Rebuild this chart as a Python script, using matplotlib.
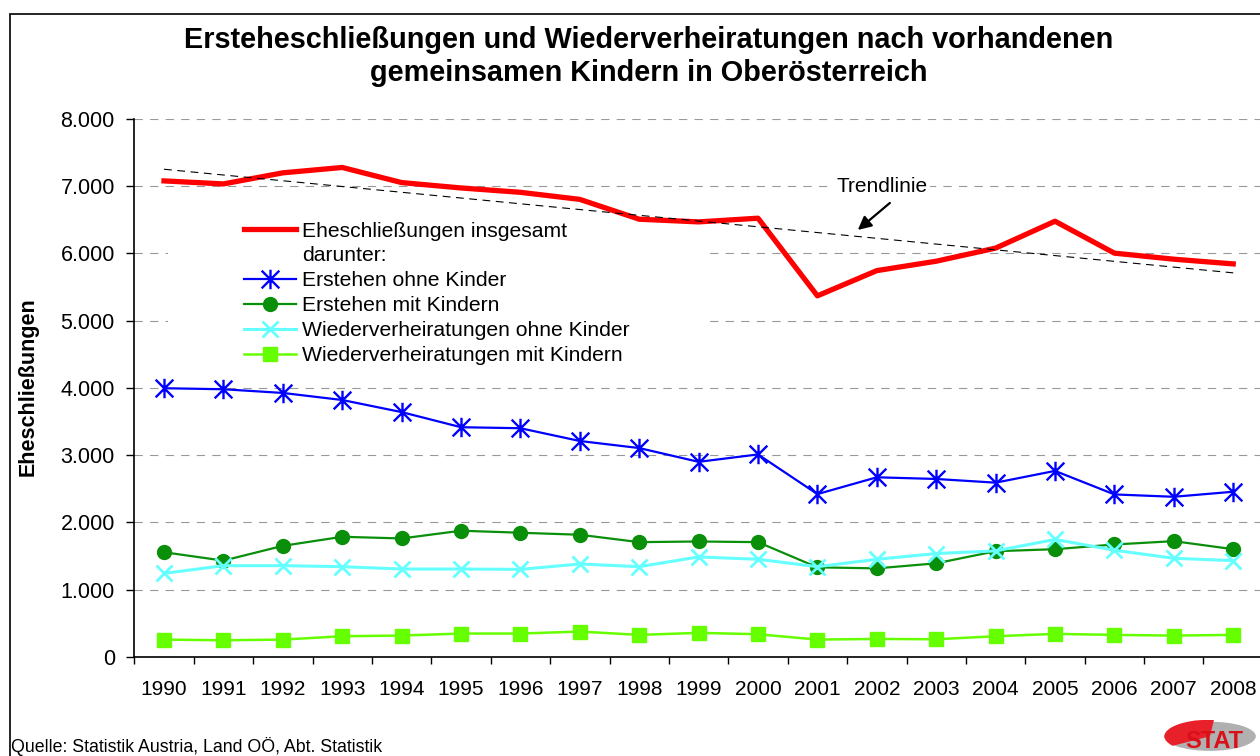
import matplotlib
matplotlib.use('Agg')
import matplotlib.pyplot as plt
from matplotlib.path import Path
from matplotlib.patches import Rectangle, Wedge, Ellipse
import numpy as np

plt.rcParams['font.family'] = ['Liberation Sans', 'DejaVu Sans']

# Daten
years = ['1990', '1991', '1992', '1993', '1994', '1995', '1996', '1997', '1998', '1999',
         '2000', '2001', '2002', '2003', '2004', '2005', '2006', '2007', '2008']
total = [7080, 7035, 7200, 7280, 7055, 6975, 6910, 6805, 6510, 6470,
         6525, 5370, 5745, 5885, 6080, 6480, 6005, 5915, 5845]
erst_ohne = [3995, 3980, 3925, 3820, 3640, 3415, 3400, 3210, 3105, 2900,
             3010, 2420, 2670, 2645, 2590, 2765, 2415, 2380, 2455]
erst_mit = [1555, 1430, 1650, 1785, 1760, 1875, 1845, 1815, 1705, 1715,
            1705, 1330, 1315, 1390, 1570, 1600, 1670, 1720, 1600]
wv_ohne = [1240, 1355, 1355, 1340, 1305, 1305, 1300, 1380, 1340, 1485,
           1450, 1340, 1450, 1535, 1575, 1745, 1585, 1465, 1430]
wv_mit = [255, 245, 255, 305, 315, 345, 345, 375, 325, 355,
          335, 255, 265, 260, 305, 340, 325, 315, 325]
yticks = [0, 1000, 2000, 3000, 4000, 5000, 6000, 7000, 8000]

x = np.arange(len(years))

fig = plt.figure(figsize=(12.6, 7.56), dpi=100)
ax = fig.add_axes([0.1066, 0.1313, 0.8957, 0.7112])

# Rahmen um das Diagramm
fig.add_artist(Rectangle((10 / 1260, -0.1), 1.2, 1 - 14 / 756 + 0.1, transform=fig.transFigure,
                         fill=False, lw=1.2, ec='black'))

# Asterisk-Marker wie in Excel
star = Path([(-1, -1), (1, 1), (-1, 1), (1, -1), (0, -1.1), (0, 1.1)],
            [Path.MOVETO, Path.LINETO, Path.MOVETO, Path.LINETO, Path.MOVETO, Path.LINETO])

# weisse Flaeche hinter der Legende (verdeckt Gitter)
ax.add_patch(Rectangle((0.07, 4300), 9.05, 2200, fc='white', ec='none', zorder=1))

ax.plot(x, total, color='#ff0000', lw=3.8, zorder=3, label='Eheschließungen insgesamt')
coef = np.polyfit(x, total, 1)
ax.plot(x, np.polyval(coef, x), color='black', lw=0.8, ls=(0, (7, 5)), zorder=3.5)
ax.plot(x, erst_ohne, color='#0000ff', lw=1.6, marker=star, ms=14, mew=1.7,
        mfc='none', mec='#0000ff', zorder=4, label='Erstehen ohne Kinder')
ax.plot(x, erst_mit, color='#0a8f0a', lw=1.6, marker='o', ms=10, zorder=4,
        label='Erstehen mit Kindern')
ax.plot(x, wv_ohne, color='#66ffff', lw=2.2, marker='x', ms=12, mew=2.0, zorder=4,
        label='Wiederverheiratungen ohne Kinder')
ax.plot(x, wv_mit, color='#66ff00', lw=1.8, marker='s', ms=10, zorder=4,
        label='Wiederverheiratungen mit Kindern')

ax.set_xlim(-0.5, len(years) - 0.5)
ax.set_ylim(0, 8000)
ax.set_yticks(yticks)
ax.set_yticklabels([f'{v:,.0f}'.replace(',', '.') for v in yticks])
ax.set_xticks(x)
ax.set_xticklabels(years)
ax.set_xticks(np.arange(-0.5, len(years)), minor=True)
ax.tick_params(axis='x', which='major', length=0, pad=17, labelsize=15)
ax.tick_params(axis='x', which='minor', length=5, width=1, direction='out')
ax.tick_params(axis='y', length=6, width=1, pad=8, labelsize=15.5, direction='out')
for s in ['top', 'right']:
    ax.spines[s].set_visible(False)
for s in ['left', 'bottom']:
    ax.spines[s].set_linewidth(1.2)
ax.yaxis.grid(True, color='#999999', lw=0.8, ls=(0, (7.5, 6.5)), zorder=0)
ax.set_axisbelow(True)

# Legende mit "darunter:" Zeile
handles, labels = ax.get_legend_handles_labels()
dummy, = ax.plot([], [], color='none', label='darunter:')
handles = [handles[0], dummy] + handles[1:]
labels = [labels[0], 'darunter:'] + labels[1:]
ax.legend(handles, labels, loc='upper left', bbox_to_anchor=(0.0875, 0.829),
          frameon=False, fontsize=15.2, borderpad=0, labelspacing=0.28,
          handlelength=2.5, handletextpad=0.25)

# Trendlinie Beschriftung
ax.text(12.09, 6990, 'Trendlinie', fontsize=15, ha='center', va='center', zorder=5,
        bbox=dict(fc='white', ec='none', pad=2))
ax.annotate('', xy=(11.68, 6350), xytext=(12.22, 6752),
            arrowprops=dict(arrowstyle='-|>', color='black', lw=1.6, mutation_scale=20,
                            shrinkA=0, shrinkB=0), zorder=5)

fig.text(649 / 1260, 1 - 40 / 756, 'Ersteheschließungen und Wiederverheiratungen nach vorhandenen',
         fontsize=20.8, fontweight='bold', ha='center', va='center')
fig.text(649 / 1260, 1 - 73 / 756, 'gemeinsamen Kindern in Oberösterreich',
         fontsize=20.8, fontweight='bold', ha='center', va='center')
fig.text(28 / 1260, 1 - 387 / 756, 'Eheschließungen', fontsize=15.5, fontweight='bold',
         rotation=90, ha='center', va='center')
fig.text(11 / 1260, 1 - 746 / 756, 'Quelle: Statistik Austria, Land OÖ, Abt. Statistik',
         fontsize=12.8, ha='left', va='center')

# kleines STAT Logo
lax = fig.add_axes([1163 / 1260, 0.0, 94 / 1260, 36 / 756])
lax.set_xlim(-1, 1)
lax.set_ylim(-1, 1.1)
lax.axis('off')
lax.add_patch(Ellipse((0, 0.15), 1.95, 1.7, fc='#b0b0b0', ec='none'))
lax.add_patch(Wedge((0, 0.15), 0.97, 85, 215, fc='#e8202a', ec='none'))
lax.text(0.1, -0.15, 'STAT', fontsize=17, fontweight='bold', color='#d8101a',
         ha='center', va='center')

plt.savefig('out.png', dpi=100)
